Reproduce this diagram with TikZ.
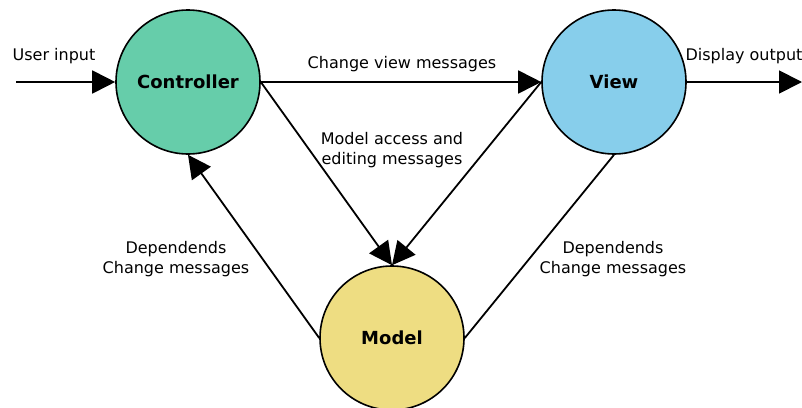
\documentclass[tikz,border=0pt]{standalone}
\usepackage{fontspec}
\setmainfont{DejaVu Sans}
\usetikzlibrary{arrows.meta}
\definecolor{ctrlc}{RGB}{102,205,170}
\definecolor{viewc}{RGB}{135,206,235}
\definecolor{modelc}{RGB}{238,221,130}
\begin{document}
\begin{tikzpicture}[x=1pt,y=-1pt,
  comp/.style={circle,draw=black,line width=1.6pt,minimum size=144pt,inner sep=0pt,font=\fontsize{18}{21}\selectfont\bfseries},
  lbl/.style={align=center,font=\fontsize{16}{19.5}\selectfont},
  conn/.style={line width=1.8pt},
  arr/.style={conn,-{Triangle[length=23pt,width=23pt]}}]
\useasboundingbox (0,0) rectangle (802,407);
\node[comp,fill=ctrlc] (ctrl) at (188,82) {Controller};
\node[comp,fill=viewc] (view) at (614,82) {View};
\node[comp,fill=modelc] (model) at (392,338) {Model};
\coordinate (in) at (16,82);
\coordinate (out) at (802,82);
\draw[arr] (in) -- (ctrl.west);
\draw[arr] (ctrl.east) -- (view.west);
\draw[arr] (view.east) -- (out);
\draw[arr] (ctrl.east) -- (model.north);
\draw[arr] (view.west) -- (model.north);
\draw[arr] (model.west) -- (ctrl.south);
\draw[conn] (model.east) -- (view.south);
\node[lbl] (l1) at (54,56) {User input};
\node[lbl] (l2) at (402,64) {Change view messages};
\node[lbl] (l3) at (744,56) {Display output};
\node[lbl] (l4) at (392,150) {Model access and\\editing messages};
\node[lbl] (l5) at (176,259) {Dependends\\Change messages};
\node[lbl] (l6) at (613,259) {Dependends\\Change messages};
\end{tikzpicture}
\end{document}
